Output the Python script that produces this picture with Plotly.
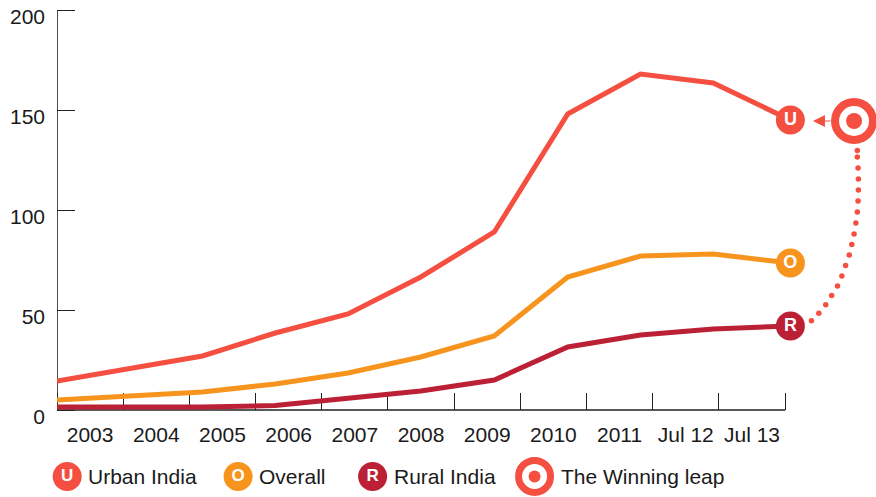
import plotly.graph_objects as go

periods = ["2003", "2004", "2005", "2006", "2007", "2008", "2009", "2010", "2011", "Jul 12", "Jul 13"]
point_x = [0, 1, 2, 3, 4, 5, 6.01, 7.02, 8.02, 9.02, 10.08]
urban = [14.5, 20.5, 27, 38.5, 48, 66.5, 89, 148, 168, 163.5, 145]
overall = [5, 7, 9, 13, 18.5, 26.5, 37, 66.5, 77, 78, 73.5]
rural = [1.5, 1.5, 1.5, 2.2, 6, 9.5, 15, 31.5, 37.5, 40.5, 42]
y_ticks = [0, 50, 100, 150, 200]

# dotted "winning leap" connector
leap_x = [11.0, 11.0, 11.01, 11.015, 11.015, 11.01, 11.0, 10.98, 10.955,
          10.924, 10.889, 10.839, 10.788, 10.728, 10.647, 10.566, 10.471, 10.37]
leap_y = [129.8, 126.5, 121, 115.5, 110, 104.5, 99, 93.5, 88,
          82.8, 77.5, 72.2, 67, 62, 57.2, 52.6, 48.4, 44.6]
leap_target = (10.955, 144.5)

RED, ORANGE, CRIMSON = "#F44F41", "#F7941E", "#BB2035"
INK = "#1a1a1a"
AXIS = "#222222"
FONT = "Liberation Sans"
# the labelled bands are narrower than the spacing of the data points
BAND = 66.227 / 72.8
band_edges = [i * BAND for i in range(len(periods) + 1)]
band_mids = [(i + 0.5) * BAND for i in range(len(periods))]
X_MAX = 11.243
Y_MIN, Y_MAX = -40, 201
LEG_Y = -33.2

fig = go.Figure()


def point(x, y, color, size, letter=None, fs=18):
    kw = dict(mode="markers")
    if letter:
        kw = dict(mode="markers+text", text=[letter], textposition="middle center",
                  textfont=dict(family=FONT, size=fs, color="white", weight="bold"))
    fig.add_trace(go.Scatter(
        x=[x], y=[y], cliponaxis=False, showlegend=False,
        marker=dict(color=color, size=size, line=dict(width=0)), **kw))


def target(x, y, size, lw, dot):
    fig.add_trace(go.Scatter(
        x=[x], y=[y], cliponaxis=False, showlegend=False, mode="markers",
        marker=dict(color="white", size=size, line=dict(color=RED, width=lw))))
    point(x, y, RED, dot)


for vals, col in ((urban, RED), (overall, ORANGE), (rural, CRIMSON)):
    fig.add_trace(go.Scatter(x=point_x, y=vals, cliponaxis=False, mode="lines", showlegend=False,
                             line=dict(color=col, width=5)))

fig.add_trace(go.Scatter(x=leap_x, y=leap_y, cliponaxis=False, mode="markers", showlegend=False,
                         marker=dict(color=RED, size=5.5)))

point(point_x[-1], urban[-1], RED, 29, "U")
point(point_x[-1], overall[-1], ORANGE, 29, "O")
point(point_x[-1], rural[-1], CRIMSON, 29, "R")
target(leap_target[0], leap_target[1], 38, 8, 16)

point(0.140, LEG_Y, RED, 29, "U", 17)
point(2.489, LEG_Y, ORANGE, 29, "O", 17)
point(4.338, LEG_Y, CRIMSON, 29, "R", 17)
target(6.564, LEG_Y, 32, 7, 12)

annotations = [
    dict(x=x, y=LEG_Y, text=t, showarrow=False, xanchor="left", yanchor="middle",
         font=dict(family=FONT, size=21, color=INK))
    for x, t in ((0.405, "Urban India"), (2.754, "Overall"), (4.608, "Rural India"), (6.897, "The Winning leap"))
]
annotations.append(dict(x=10.39, y=leap_target[1], ax=19, ay=0, text="",
                        showarrow=True, arrowhead=2, arrowsize=2.4, arrowwidth=1, arrowcolor=RED))

axis_shapes = [
    dict(type="line", layer="below", x0=0, x1=band_edges[-1], y0=0, y1=0, line=dict(color=AXIS, width=1.5)),
    dict(type="line", layer="below", x0=0, x1=0, y0=0, y1=y_ticks[-1], line=dict(color="#111111", width=1.5)),
]

fig.update_layout(
    width=876, height=497, margin=dict(l=57, r=0.5, t=8, b=7, autoexpand=False),
    paper_bgcolor="white", plot_bgcolor="white", hovermode=False,
    font=dict(family=FONT, size=21, color=INK),
    annotations=annotations, shapes=axis_shapes,
    xaxis=dict(range=[0, X_MAX], anchor="free", position=(0 - Y_MIN) / (Y_MAX - Y_MIN),
               tickmode="array", tickvals=band_mids, ticktext=periods, ticks="",
               minor=dict(tickmode="array", tickvals=band_edges, ticks="inside", ticklen=17, tickwidth=1.2,
                          tickcolor=AXIS, showgrid=False),
               showline=False, showgrid=False, zeroline=False,
               layer="below traces", ticklabelstandoff=10,
               tickfont=dict(family=FONT, size=21, color=INK)),
    yaxis=dict(range=[Y_MIN, Y_MAX], tickvals=y_ticks, ticks="inside", ticklen=18, tickwidth=1.2,
               tickcolor=AXIS, showline=False, showgrid=False,
               zeroline=False, layer="below traces", ticklabelshift=7, ticklabelstandoff=11,
               ticklabeloverflow="allow", tickfont=dict(family=FONT, size=21, color=INK)),
)

fig.write_html("out.html", config=dict(displayModeBar=False),
               post_script="document.body.style.margin='0';document.body.style.overflow='hidden';")
